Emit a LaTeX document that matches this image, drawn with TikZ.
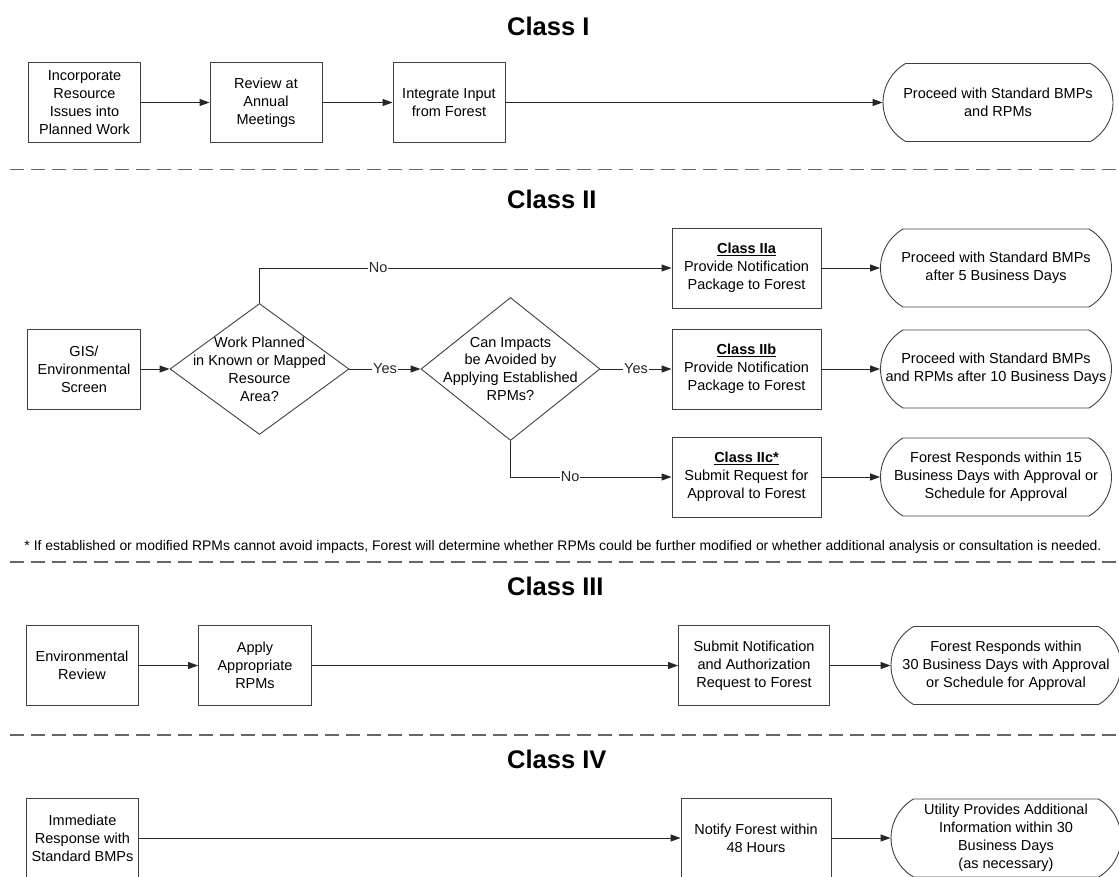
\documentclass[tikz,border=0pt]{standalone}
\usepackage{fontspec}
\setmainfont{Liberation Sans}
\usetikzlibrary{arrows.meta,shapes.geometric,shapes.misc}

\begin{document}
\begin{tikzpicture}[x=1pt, y=-1pt,
  font=\fontsize{14.5}{18}\selectfont,
  box/.style={draw=black!75, line width=0.9pt, align=center, inner sep=0pt, minimum width=112pt, minimum height=80pt},
  dia/.style={draw=black!75, line width=0.9pt, diamond, align=center, inner sep=-20pt, minimum width=179pt},
  term/.style={draw=black!75, line width=0.9pt, rounded rectangle, rounded rectangle arc length=120, align=center, inner ysep=0pt, inner xsep=-22pt, minimum width=186pt, minimum height=78pt},
  ar/.style={-{Triangle[length=10pt, width=7pt]}, line width=1pt, black!85},
  lab/.style={fill=white, inner sep=1pt, text=black!85},
  ttl/.style={font=\fontsize{25.5}{30}\selectfont\bfseries, anchor=west, inner sep=0pt},
  sep/.style={dash pattern=on 14pt off 7pt, line width=1.3pt, black!60},
  note/.style={font=\fontsize{13.9}{16}\selectfont, inner sep=0pt}]
\useasboundingbox (0,0) rectangle (1119,876);
% ---- Class I
\node[ttl] (t1) at (507,26) {Class I};
\node[box] (inc) at (84.5,102.5) {Incorporate\\Resource\\Issues into\\Planned Work};
\node[box] (rev) at (266,102.5) {Review at\\Annual\\Meetings};
\node[box] (integ) at (449,102.5) {Integrate Input\\from Forest};
\node[term] (end1) at (998,102.5) {Proceed with Standard BMPs\\and RPMs};
\draw[ar] (inc) -- (rev);
\draw[ar] (rev) -- (integ);
\draw[ar] (integ) -- (end1);
\draw[sep] (10,169.5) -- (1119,169.5);
% ---- Class II
\node[ttl] (t2) at (507,199) {Class II};
\node[box, minimum width=113pt] (gis) at (84,369) {GIS/\\Environmental\\Screen};
\node[dia, minimum height=131pt] (known) at (259.5,369) {Work Planned\\in Known or Mapped\\Resource\\Area?};
\node[dia, minimum height=143pt] (avoid) at (510.5,369) {Can Impacts\\be Avoided by\\Applying Established\\RPMs?};
\node[box, minimum width=149pt] (c2a) at (746.5,268) {\underline{\textbf{Class IIa}}\\Provide Notification\\Package to Forest};
\node[box, minimum width=149pt] (c2b) at (746.5,369) {\underline{\textbf{Class IIb}}\\Provide Notification\\Package to Forest};
\node[box, minimum width=149pt] (c2c) at (746.5,477) {\underline{\textbf{Class IIc*}}\\Submit Request for\\Approval to Forest};
\node[term, minimum width=187pt] (end2a) at (996,268) {Proceed with Standard BMPs\\after 5 Business Days};
\node[term, minimum width=187pt] (end2b) at (996,369) {Proceed with Standard BMPs\\and RPMs after 10 Business Days};
\node[term, minimum width=187pt] (end2c) at (996,477) {Forest Responds within 15\\Business Days with Approval or\\Schedule for Approval};
\draw[ar] (gis) -- (known);
\draw[ar] (known.east) -- node[lab]{Yes} (avoid.west);
\draw[ar] (known.north) |- node[lab, pos=0.644]{No} (c2a.west);
\draw[ar] (avoid.east) -- node[lab]{Yes} (c2b.west);
\draw[ar] (avoid.south) |- node[lab, pos=0.685]{No} (c2c.west);
\draw[ar] (c2a) -- (end2a);
\draw[ar] (c2b) -- (end2b);
\draw[ar] (c2c) -- (end2c);
\node[note] (fn) at (563,547) {* If established or modified RPMs cannot avoid impacts, Forest will determine whether RPMs could be further modified or whether additional analysis or consultation is needed.};
\draw[sep] (10,562) -- (1119,562);
% ---- Class III
\node[ttl] (t3) at (507,586) {Class III};
\node[box] (env) at (82,665.5) {Environmental\\Review};
\node[box, minimum width=113pt] (apply) at (255,665.5) {Apply\\Appropriate\\RPMs};
\node[box, minimum width=151pt] (subm) at (754,665.5) {Submit Notification\\and Authorization\\Request to Forest};
\node[term] (end3) at (1006,665.5) {Forest Responds within\\30 Business Days with Approval\\or Schedule for Approval};
\draw[ar] (env) -- (apply);
\draw[ar] (apply) -- (subm);
\draw[ar] (subm) -- (end3);
\draw[sep] (10,735) -- (1119,735);
% ---- Class IV
\node[ttl] (t4) at (507,759) {Class IV};
\node[box] (imm) at (82.5,838) {Immediate\\Response with\\Standard BMPs};
\node[box, minimum width=150pt] (notif) at (756,838) {Notify Forest within\\48 Hours};
\node[term] (end4) at (1006,838) {Utility Provides Additional\\Information within 30\\Business Days\\(as necessary)};
\draw[ar] (imm) -- (notif);
\draw[ar] (notif) -- (end4);
\end{tikzpicture}
\end{document}
